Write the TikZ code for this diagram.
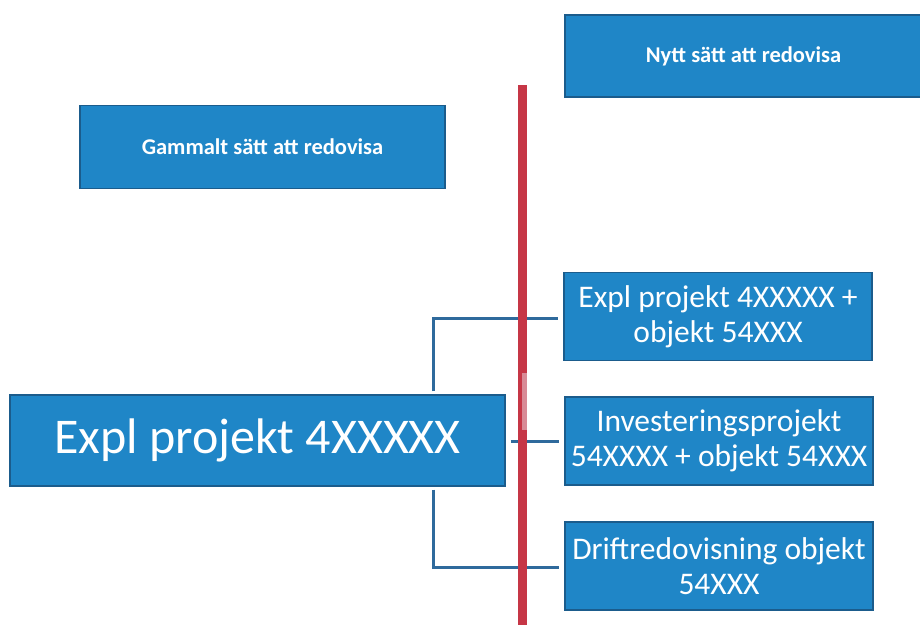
\documentclass[tikz,border=0pt]{standalone}
\usepackage{fontspec}
\setmainfont{Carlito}
\definecolor{boxblue}{HTML}{1F86C7}
\definecolor{boxedge}{HTML}{1B5C8C}
\definecolor{linkblue}{HTML}{2F6A9C}
\definecolor{divred}{HTML}{C63646}
\definecolor{divpale}{HTML}{D88A96}
\tikzset{
  bluebox/.style={draw=boxedge, line width=1.2pt, fill=boxblue, text=white,
    inner sep=0pt, align=center},
  headbox/.style={bluebox, font=\fontsize{22.5}{27}\selectfont\bfseries},
  itembox/.style={bluebox, minimum width=308pt, minimum height=88pt,
    font=\fontsize{31.5}{35}\selectfont},
  link/.style={draw=linkblue, line width=3pt},
}
\begin{document}
\begin{tikzpicture}[x=1pt, y=-1pt]
\useasboundingbox (0,0) rectangle (920,625);

% column headings
\node[headbox, minimum width=365pt, minimum height=83pt] (old) at (262.5,147) {Gammalt sätt att redovisa};
\node[headbox, minimum width=357pt, minimum height=82pt] (new) at (743.5,56) {Nytt sätt att redovisa};

% dividing line between old and new
\coordinate (divtop) at (522.5,85);
\coordinate (divbot) at (522.5,625);
\coordinate (palea) at (524.5,373);
\coordinate (paleb) at (524.5,430);

% old account
\node[bluebox, minimum width=495pt, minimum height=91pt,
  font=\fontsize{50}{58}\selectfont] (main) at (257.5,440.5) {Expl projekt 4XXXXX};

% new accounts
\node[itembox] (a) at (718,316.5) {Expl projekt 4XXXXX +\\objekt 54XXX};
\node[itembox] (b) at (719,441) {Investeringsprojekt\\54XXXX + objekt 54XXX};
\node[itembox] (c) at (719,566) {Driftredovisning objekt\\54XXX};

% connectors
\coordinate (ka) at (433,318);
\coordinate (kc) at (433,567);
\draw[link, shorten <=3pt, shorten >=5pt] (main.north -| ka) -- (ka) -- (ka -| a.west);
\draw[link, shorten <=5pt, shorten >=5pt] (main.east |- b.west) -- (b.west);
\draw[link, shorten <=3pt, shorten >=5pt] (main.south -| kc) -- (kc) -- (kc -| c.west);

% red line drawn over the connectors, with its paler stretch
\draw[divred, line width=8.5pt] (divtop) -- (divbot);
\draw[divpale, line width=5.5pt] (palea) -- (paleb);
\end{tikzpicture}
\end{document}
